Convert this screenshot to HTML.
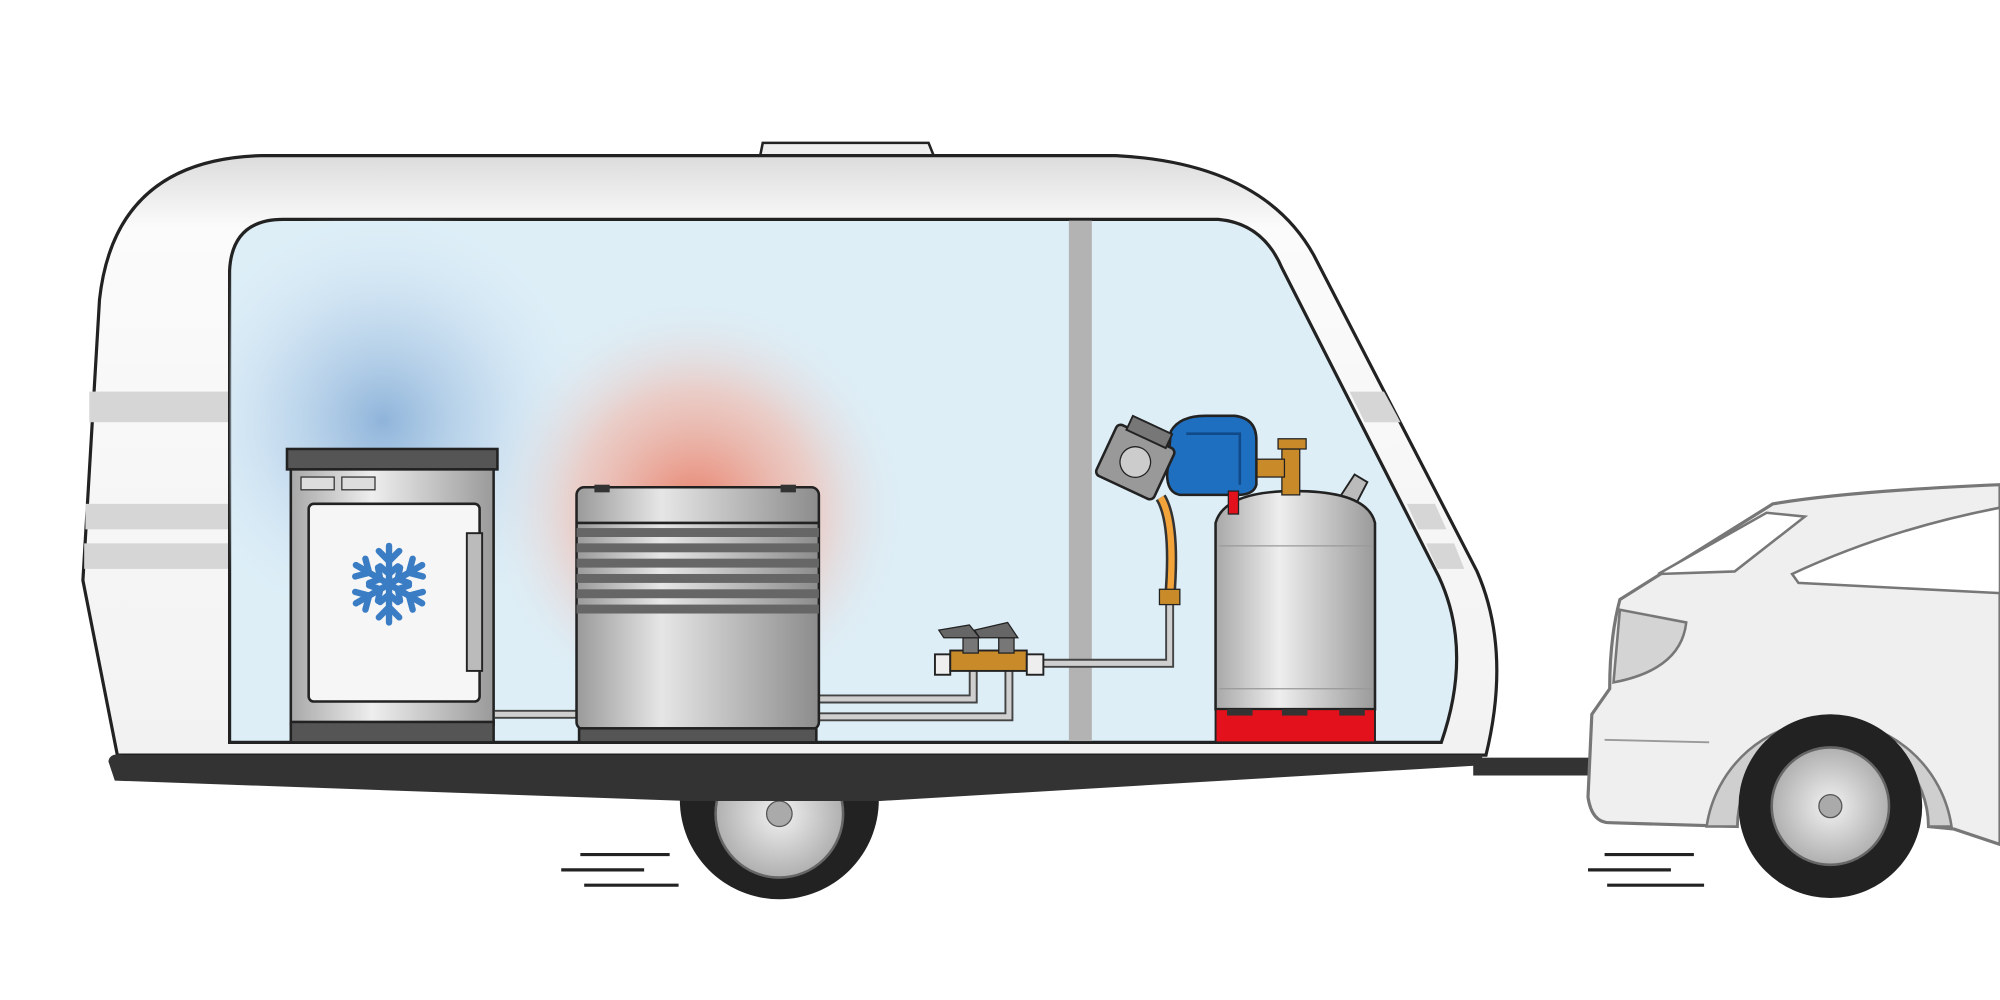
<!DOCTYPE html>
<html><head><style>html,body{margin:0;padding:0;background:#fff}svg{display:block}</style></head>
<body>
<svg width="2000" height="1000" viewBox="0 0 1568 784" xmlns="http://www.w3.org/2000/svg">
<defs>
<linearGradient id="body" x1="0" y1="0" x2="0" y2="1"><stop offset="0" stop-color="#dcdcdc"/><stop offset="0.12" stop-color="#fbfbfb"/><stop offset="1" stop-color="#f2f2f2"/></linearGradient>
<radialGradient id="blue" cx="300" cy="330" r="170" gradientUnits="userSpaceOnUse"><stop offset="0" stop-color="#8fb4da"/><stop offset="0.6" stop-color="#c6dcef" stop-opacity="0.6"/><stop offset="1" stop-color="#ddeef7" stop-opacity="0"/></radialGradient>
<radialGradient id="red" cx="545" cy="400" r="170" gradientUnits="userSpaceOnUse"><stop offset="0" stop-color="#e8806a"/><stop offset="0.55" stop-color="#f2b7a8" stop-opacity="0.6"/><stop offset="1" stop-color="#ddeef7" stop-opacity="0"/></radialGradient>
<linearGradient id="met" x1="0" y1="0" x2="1" y2="0"><stop offset="0" stop-color="#9a9a9a"/><stop offset="0.35" stop-color="#e6e6e6"/><stop offset="1" stop-color="#8c8c8c"/></linearGradient>
<linearGradient id="met2" x1="0" y1="0" x2="1" y2="0"><stop offset="0" stop-color="#a8a8a8"/><stop offset="0.4" stop-color="#eeeeee"/><stop offset="1" stop-color="#9a9a9a"/></linearGradient>
<radialGradient id="rim"><stop offset="0" stop-color="#f2f2f2"/><stop offset="1" stop-color="#b0b0b0"/></radialGradient>
</defs>
<!-- caravan wheel (behind) -->
<circle cx="611" cy="627" r="78" fill="#222"/>
<circle cx="611" cy="638" r="50" fill="url(#rim)" stroke="#666" stroke-width="2"/>
<circle cx="611" cy="638" r="10" fill="#aaa" stroke="#555"/>
<!-- roof vent -->
<path d="M596,122 L598,112 L728,112 L732,122 Z" fill="#eee" stroke="#222" stroke-width="2"/>
<!-- caravan body -->
<path d="M205,122 L875,122 Q990,128 1030,200 L1158,448 Q1185,510 1165,592 L92,592 L65,455 L78,235 Q90,125 205,122 Z" fill="url(#body)" stroke="#222" stroke-width="2.5"/>
<g fill="#d6d6d6">
<rect x="70" y="307" width="112" height="24"/><rect x="67" y="395" width="115" height="20"/><rect x="66" y="426" width="116" height="20"/>
<path d="M1058,307 L1085,307 L1098,331 L1070,331Z"/><path d="M1103,395 L1125,395 L1134,415 L1112,415Z"/><path d="M1118,426 L1140,426 L1148,446 L1127,446Z"/>
</g>
<path d="M180,212 Q182,172 222,172 L955,172 Q990,175 1005,210 L1128,452 Q1155,510 1130,582 L180,582 Z" fill="#ddeef7" stroke="#222" stroke-width="2.5"/>
<clipPath id="ic"><path d="M180,212 Q182,172 222,172 L955,172 Q990,175 1005,210 L1128,452 Q1155,510 1130,582 L180,582 Z"/></clipPath>
<g clip-path="url(#ic)"><rect x="100" y="150" width="500" height="450" fill="url(#blue)"/><rect x="350" y="200" width="420" height="400" fill="url(#red)"/></g>
<rect x="838" y="173" width="18" height="408" fill="#b3b3b3"/>
<!-- chassis -->
<path d="M85,597 Q86,590 96,592 L1162,592 L1162,600 L690,628 L540,628 L90,612 Z" fill="#333"/>
<rect x="1155" y="594" width="92" height="14" fill="#333"/>
<!-- speed lines -->
<g stroke="#222" stroke-width="2.5"><line x1="455" y1="670" x2="525" y2="670"/><line x1="440" y1="682" x2="505" y2="682"/><line x1="458" y1="694" x2="532" y2="694"/>
<line x1="1258" y1="670" x2="1328" y2="670"/><line x1="1245" y1="682" x2="1310" y2="682"/><line x1="1260" y1="694" x2="1336" y2="694"/></g>
<!-- car -->
<path d="M1568,380 Q1450,385 1390,395 L1270,470 Q1262,500 1262,540 L1248,560 L1245,625 Q1248,645 1262,645 L1362,648 A75,75 0 0 1 1512,648 L1532,650 L1568,662 Z" fill="#efefef" stroke="#777" stroke-width="2.5"/>
<path d="M1300,450 L1385,402 L1415,405 L1360,448 Z" fill="#fff" stroke="#777" stroke-width="2"/>
<path d="M1405,450 Q1480,415 1568,398 L1568,465 L1410,457 Z" fill="#fff" stroke="#777" stroke-width="2"/>
<path d="M1270,478 L1322,488 Q1318,525 1265,535 Z" fill="#d4d4d4" stroke="#777" stroke-width="2"/>
<line x1="1258" y1="580" x2="1340" y2="582" stroke="#999" stroke-width="1.5"/>
<path d="M1338,648 A97,97 0 0 1 1530,648 L1512,648 A75,75 0 0 0 1362,648 Z" fill="#cfcfcf" stroke="#777" stroke-width="2"/>
<circle cx="1435" cy="632" r="72" fill="#222"/>
<circle cx="1435" cy="632" r="46" fill="url(#rim)" stroke="#666" stroke-width="2"/>
<circle cx="1435" cy="632" r="9" fill="#aaa" stroke="#555"/>
<!-- fridge -->
<rect x="225" y="352" width="165" height="16" fill="#555" stroke="#222" stroke-width="2"/>
<rect x="228" y="368" width="159" height="200" fill="url(#met2)" stroke="#222" stroke-width="2"/>
<rect x="228" y="566" width="159" height="16" fill="#555" stroke="#222" stroke-width="2"/>
<rect x="236" y="374" width="26" height="10" fill="#ddd" stroke="#333"/><rect x="268" y="374" width="26" height="10" fill="#ddd" stroke="#333"/>
<rect x="242" y="395" width="134" height="155" rx="4" fill="#f6f6f6" stroke="#222" stroke-width="2"/>
<rect x="366" y="418" width="12" height="108" fill="#bbb" stroke="#222" stroke-width="1.5"/>
<g stroke="#3a7dc4" stroke-width="5" stroke-linecap="round" fill="none" transform="translate(305,458)">
<g id="arm"><line x1="0" y1="0" x2="0" y2="-30"/><polyline points="-8,-26 0,-18 8,-26"/><polyline points="-7,-14 0,-8 7,-14"/></g>
<use href="#arm" transform="rotate(60)"/><use href="#arm" transform="rotate(120)"/><use href="#arm" transform="rotate(180)"/><use href="#arm" transform="rotate(240)"/><use href="#arm" transform="rotate(300)"/></g>
<!-- pipes -->
<g fill="none" stroke="#444" stroke-width="7"><path d="M388,560 L454,560"/><path d="M640,548 L763,548 L763,520"/><path d="M640,562 L791,562 L791,520"/><path d="M818,520 L917,520 L917,470"/></g>
<g fill="none" stroke="#cfcfcf" stroke-width="4"><path d="M388,560 L454,560"/><path d="M640,548 L763,548 L763,520"/><path d="M640,562 L791,562 L791,520"/><path d="M818,520 L917,520 L917,470"/></g>
<!-- heater -->
<rect x="452" y="382" width="190" height="190" rx="6" fill="url(#met)" stroke="#222" stroke-width="2"/>
<rect x="466" y="380" width="12" height="6" fill="#333"/><rect x="612" y="380" width="12" height="6" fill="#333"/>
<path d="M452,410 L642,410" stroke="#222" stroke-width="2"/>
<g fill="#666"><rect x="452" y="414" width="190" height="7"/><rect x="452" y="426" width="190" height="7"/><rect x="452" y="438" width="190" height="7"/><rect x="452" y="450" width="190" height="7"/><rect x="452" y="462" width="190" height="7"/><rect x="452" y="474" width="190" height="7"/></g>
<rect x="454" y="571" width="186" height="11" fill="#555" stroke="#222" stroke-width="2"/>
<!-- valves -->
<rect x="733" y="513" width="12" height="16" fill="#eee" stroke="#222" stroke-width="1.5"/>
<rect x="745" y="510" width="60" height="16" fill="#c98a2a" stroke="#222" stroke-width="1.5"/>
<rect x="805" y="513" width="13" height="16" fill="#eee" stroke="#222" stroke-width="1.5"/>
<rect x="755" y="500" width="12" height="12" fill="#777" stroke="#222"/><rect x="783" y="500" width="12" height="12" fill="#777" stroke="#222"/>
<path d="M736,494 L760,490 L768,500 L740,500Z" fill="#666" stroke="#222"/><path d="M764,494 L790,488 L798,500 L768,500Z" fill="#666" stroke="#222"/>
<!-- hose -->
<path d="M910,390 Q922,410 917,470" fill="none" stroke="#333" stroke-width="9"/>
<path d="M910,390 Q922,410 917,470" fill="none" stroke="#f2a33a" stroke-width="5"/>
<rect x="909" y="462" width="16" height="12" fill="#c98a2a" stroke="#222"/>
<!-- gas bottle -->
<path d="M1045,398 L1062,372 L1072,378 L1058,405Z" fill="#bbb" stroke="#222" stroke-width="1.5"/>
<path d="M953,410 Q960,385 1015,385 Q1072,385 1078,410 L1078,556 L953,556 Z" fill="url(#met2)" stroke="#222" stroke-width="2"/>
<line x1="956" y1="428" x2="1076" y2="428" stroke="#999"/><line x1="956" y1="540" x2="1076" y2="540" stroke="#999"/>
<rect x="953" y="556" width="125" height="26" fill="#e2111b" stroke="#222" stroke-width="1.5"/>
<rect x="962" y="556" width="20" height="5" fill="#333"/><rect x="1005" y="556" width="20" height="5" fill="#333"/><rect x="1050" y="556" width="20" height="5" fill="#333"/>
<rect x="1005" y="352" width="14" height="36" fill="#c98a2a" stroke="#222"/>
<rect x="1002" y="344" width="22" height="8" fill="#c98a2a" stroke="#222"/>
<rect x="985" y="360" width="22" height="14" fill="#c98a2a" stroke="#222"/>
<!-- regulator -->
<path d="M918,338 Q925,326 945,326 L968,326 Q985,328 985,345 L985,380 Q983,388 970,388 L925,388 Q915,386 915,372 Z" fill="#1f6fc0" stroke="#222" stroke-width="2"/>
<path d="M930,340 L972,340 L972,380" fill="none" stroke="#114a88" stroke-width="2"/>
<g transform="rotate(25 890 360)"><rect x="866" y="340" width="50" height="44" rx="4" fill="#999" stroke="#222" stroke-width="2"/><rect x="874" y="330" width="34" height="12" fill="#777" stroke="#222" stroke-width="1.5"/><circle cx="891" cy="362" r="12" fill="#ccc" stroke="#222"/></g>
<rect x="963" y="385" width="8" height="18" fill="#e2111b" stroke="#222"/>
</svg>
</body></html>
